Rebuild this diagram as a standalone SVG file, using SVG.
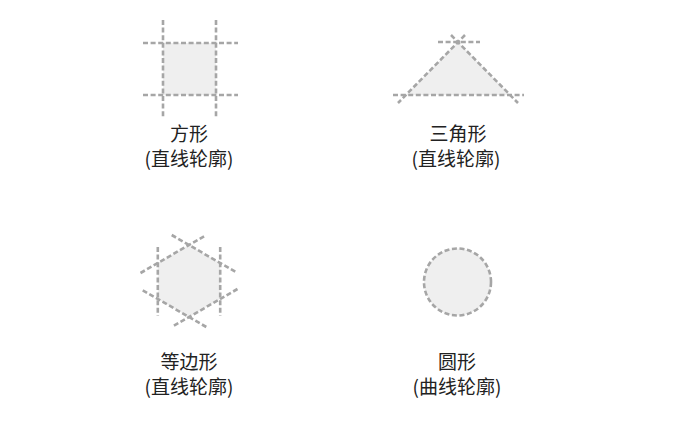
<svg xmlns="http://www.w3.org/2000/svg" width="700" height="447" viewBox="0 0 700 447">
  <style>
    .fill { fill: #efefef; stroke: none; }
    .dash { fill: none; stroke: #a6a6a6; stroke-width: 2.6; stroke-dasharray: 5 2.6; }
    .lbl { font-family: "Noto Sans CJK SC", "Noto Sans", sans-serif; font-size: 19px; fill: #222222; text-anchor: middle; }
  </style>
  <rect width="700" height="447" fill="#ffffff"/>

  <g id="square">
    <rect class="fill" x="163" y="43" width="53" height="52"/>
    <line class="dash" x1="163" y1="20" x2="163" y2="117"/>
    <line class="dash" x1="216" y1="20" x2="216" y2="117"/>
    <line class="dash" x1="143" y1="43" x2="238" y2="43"/>
    <line class="dash" x1="143" y1="95" x2="238" y2="95"/>
    <text class="lbl" x="189" y="141">方形</text>
    <text class="lbl" x="189" y="166">(直线轮廓)</text>
  </g>

  <g id="triangle">
    <polygon class="fill" points="458,42 406,95 510,95"/>
    <line class="dash" x1="438" y1="42" x2="480" y2="42"/>
    <line class="dash" x1="393" y1="95" x2="524" y2="95"/>
    <line class="dash" x1="465" y1="35" x2="398" y2="103"/>
    <line class="dash" x1="451" y1="35" x2="518" y2="103"/>
    <text class="lbl" x="458" y="141">三角形</text>
    <text class="lbl" x="456" y="166">(直线轮廓)</text>
  </g>

  <g id="hexagon">
    <polygon class="fill" points="189,245 220.2,263 220.2,299 189,317 157.8,299 157.8,263"/>
    <line class="dash" x1="157.8" y1="247" x2="157.8" y2="316"/>
    <line class="dash" x1="220.2" y1="247" x2="220.2" y2="316"/>
    <line class="dash" x1="140.5" y1="273" x2="206.3" y2="235"/>
    <line class="dash" x1="171.7" y1="235" x2="237.5" y2="273"/>
    <line class="dash" x1="237.5" y1="289" x2="171.7" y2="327"/>
    <line class="dash" x1="206.3" y1="327" x2="140.5" y2="289"/>
    <text class="lbl" x="189" y="369">等边形</text>
    <text class="lbl" x="189" y="394">(直线轮廓)</text>
  </g>

  <g id="circle">
    <circle class="fill" cx="457.5" cy="282" r="33.5"/>
    <circle class="dash" cx="457.5" cy="282" r="33.5"/>
    <text class="lbl" x="457" y="369">圆形</text>
    <text class="lbl" x="457" y="394">(曲线轮廓)</text>
  </g>
</svg>
